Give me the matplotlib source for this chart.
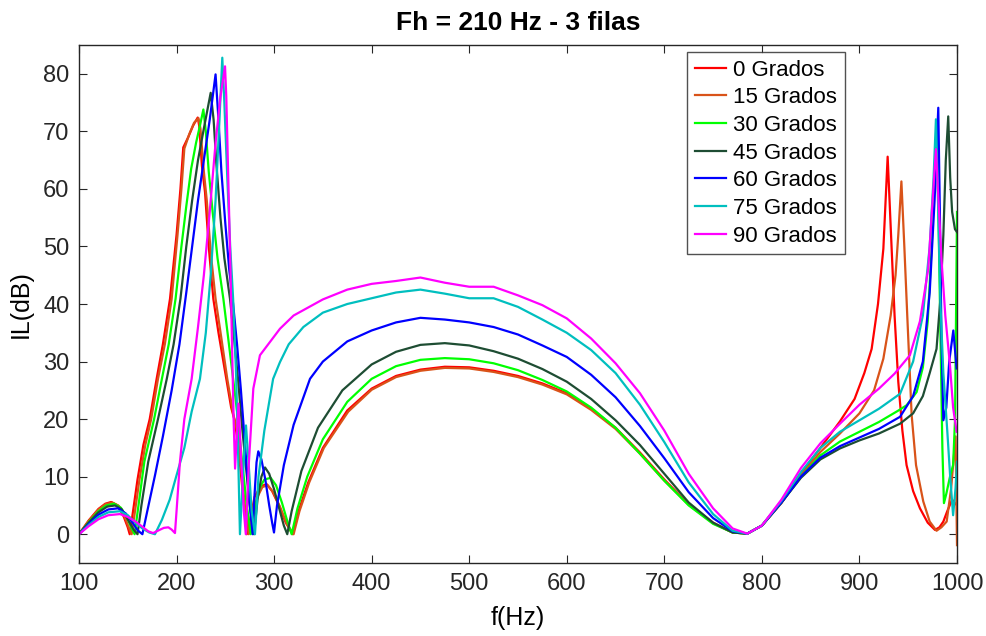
import matplotlib
matplotlib.use("Agg")
import matplotlib.pyplot as plt

plt.rcParams['font.family'] = ['Liberation Sans', 'DejaVu Sans']

# curves, (f in Hz, IL in dB)
f_0 = [100, 110, 120, 127, 133, 140, 146, 150, 152,
       155, 160, 166, 172.5, 179.6, 186, 193.3, 200, 204, 206.9, 212, 217, 221.7,
       223.3, 226, 229.2, 233, 237.7, 243, 250, 256, 260, 264, 268, 272, 276, 280, 286, 292.4, 298, 305, 312, 319,
       325, 335, 350, 375, 400, 425, 450, 475, 500, 525, 550, 575, 600, 625, 650, 675, 700, 725, 750, 770, 785,
       800, 820, 840, 860, 880, 895, 905, 912.5, 919, 924.5, 928.9, 933, 936, 939.8, 944, 948.3, 955, 962, 970,
       977.4, 982, 986, 990, 995, 1000]
il_0 = [0, 2.4, 4.4, 5.3, 5.6, 5.0, 3.0, 1.2, 0,
        3.5, 9.5, 15.5, 20, 27, 33, 40.9, 52, 60, 67.2, 69, 71, 72.4,
        70.9, 64, 59.4, 50, 40.9, 35, 28, 22, 19.5, 14, 7, 0, 3, 6.5, 8.3, 8.7, 7.5, 5, 2, 0,
        4, 9, 15, 21.5, 25.3, 27.5, 28.6, 29.1, 29.0, 28.4, 27.5, 26.2, 24.5, 21.8, 18.5, 14.2, 9.5, 5.2, 2, 0.3, 0.1,
        1.5, 5.5, 10.5, 15, 19.6, 23.5, 28, 32.2, 40, 49.6, 65.6, 49.6, 38, 26.5, 18, 12, 7.5, 4.5, 2,
        0.75, 1.2, 2.2, 4, 6, 5]

f_15 = [100, 110, 120, 127, 134, 141, 147, 151, 154,
        157, 162, 168, 174, 181, 188, 195, 201, 205, 208, 213, 218, 222.5,
        224.5, 228, 231, 235, 240, 246, 252, 258, 262, 266, 270, 274, 278, 283, 288, 293.5, 299, 306, 313, 320,
        326, 336, 351, 376, 400, 425, 450, 475, 500, 525, 550, 575, 600, 625, 650, 675, 700, 725, 750, 770, 785,
        800, 820, 840, 860, 880, 900, 915, 924.5, 932, 937, 939.8, 943, 946, 949, 953.5, 958, 965.4, 972,
        979, 984, 989.4, 994, 998.5, 1000]
il_15 = [0, 2.3, 4.3, 5.2, 5.5, 4.9, 3, 1.2, 0,
         3.5, 9.5, 15.5, 20, 27, 33, 40.9, 52, 60, 67, 69.5, 71.5, 72.3,
         70.5, 63, 58, 49, 40.9, 34, 27, 21, 18, 12, 5, 0, 3, 6.5, 8.2, 8.5, 7.3, 4.8, 1.8, 0,
         4, 9, 15, 21.3, 25.1, 27.3, 28.4, 28.9, 28.8, 28.2, 27.3, 26, 24.3, 21.6, 18.3, 14, 9.3, 5.1, 1.9, 0.3, 0.1,
         1.5, 5.4, 10.2, 14.3, 17.5, 21, 25, 30.5, 38, 45, 52, 61.3, 50, 38, 20.7, 12, 5.7, 2.2,
         0.6, 1.2, 2.2, 8, 17, -1.9]

f_30 = [100, 110, 120, 128, 136, 143, 150, 154, 157,
        161, 167, 177, 185, 192, 199, 205, 210, 215, 220, 224, 227.5,
        230, 233, 237, 242, 248, 253, 258, 263, 267, 272, 276, 280, 285, 290, 296.5, 302, 308, 314, 318,
        324, 334, 350, 375, 400, 425, 450, 475, 500, 525, 550, 575, 600, 625, 650, 675, 700, 725, 750, 770, 785,
        800, 820, 840, 860, 880, 900, 920, 940, 948.3, 958.6, 965, 970, 974, 977, 979.5, 981, 983, 985,
        986.6, 989, 992.8, 996, 998, 1000]
il_30 = [0, 2.1, 4.0, 5.0, 5.3, 4.6, 2.6, 1, 0,
         5, 12.6, 20, 27, 33, 40.9, 50, 57, 63.5, 68, 71, 73.8,
         70, 63, 56, 48, 40.9, 34, 27, 20, 13, 5, 0, 4.5, 8, 9.5, 9.8, 8.5, 5.5, 2, 0,
         4.5, 10, 16.5, 23, 27, 29.2, 30.3, 30.6, 30.4, 29.7, 28.5, 26.8, 24.8, 22, 18.5, 14, 9.3, 5, 1.8, 0.3, 0.1,
         1.5, 5.5, 10, 13.7, 16.1, 17.8, 19.5, 21.5, 22.4, 24.7, 29, 37, 50, 62, 70, 55, 35, 15,
         5.4, 7, 10, 12, 20, 56]

f_45 = [100, 110, 120, 129, 137, 144, 151, 156, 160,
        164, 171, 181, 190, 197, 204, 210, 216, 222, 228, 235,
        238, 241, 245, 249, 254.8, 259, 263, 267, 271, 275, 279.4, 283, 287, 290.7, 295, 300, 306, 310, 313.5,
        318, 328, 345, 370, 400, 425, 450, 475, 500, 525, 550, 575, 600, 625, 650, 675, 700, 725, 750, 770, 785,
        800, 820, 840, 860, 880, 900, 920, 941.6, 955, 965, 972, 979, 983, 986, 988.5, 991,
        993, 995, 997.9, 1000]
il_45 = [0, 2.0, 3.8, 4.8, 5.0, 4.3, 2.3, 0.8, 0,
         5, 12.6, 20, 27, 33, 40.9, 50, 58, 65, 70.5, 76.7,
         72, 64, 55, 48, 40.9, 34, 27, 19, 12, 5, 0, 6, 10, 11.6, 10.5, 7.8, 4, 1.5, 0,
         4, 11, 18.5, 25, 29.5, 31.7, 32.9, 33.2, 32.8, 31.8, 30.5, 28.7, 26.5, 23.5, 19.8, 15.5, 10.5, 5.5, 2, 0.3, 0.1,
         1.5, 5.5, 9.8, 13, 14.9, 16.3, 17.5, 19.2, 21, 24, 28, 32.2, 41, 52, 65, 72.6,
         62, 56, 53, 52.5]

f_60 = [100, 110, 120, 130, 140, 148, 155, 160, 165,
        170, 178, 186, 195, 203, 210, 216, 222, 228, 234, 240,
        243, 246, 250, 254, 258, 262, 266, 270, 274, 278, 280, 282, 283.8, 287, 291, 295, 298, 299.9,
        303, 310, 320, 336.8, 350, 375, 400, 425, 450, 475, 500, 525, 550, 575, 600, 625, 650, 675, 700, 725, 750, 770, 785,
        800, 820, 840, 860, 880, 900, 920, 941.6, 955, 965, 972, 977, 980.8, 982.5, 984, 986,
        989, 992, 996.2, 999.6]
il_60 = [0, 1.8, 3.4, 4.3, 4.5, 3.6, 2, 0.7, 0,
         4, 10.3, 17, 25, 33, 42, 50, 58, 65, 72, 79.9,
         72, 63, 54, 46, 40, 33, 25, 16, 7, 0, 7, 12.5, 14.4, 13, 9.5, 5, 2, 0.3,
         5, 12, 19, 27, 30, 33.5, 35.4, 36.8, 37.6, 37.3, 36.8, 36, 34.7, 32.8, 30.8, 27.7, 23.8, 18.8, 13.2, 7.3, 2.8, 0.5, 0.1,
         1.5, 5.5, 10, 13.3, 15.3, 16.8, 18.3, 20.4, 24, 30, 42, 58, 74.1, 55, 35, 19.8,
         22, 30, 35.4, 28.8]

f_75 = [100, 110, 120, 130, 142, 150, 158, 165, 172, 177.9,
        185, 193, 200.1, 208, 215.5, 224, 230, 235, 240, 244, 246.9,
        249, 252, 255, 258, 261, 263, 265, 268, 271.2, 274, 277, 280.4, 284, 290, 299, 306,
        315, 330, 350, 375, 400, 425, 450, 475, 500, 525, 550, 575, 600, 625, 650, 675, 700, 725, 750, 770, 785,
        800, 820, 840, 860, 880, 900, 920, 941.6, 955, 965, 972, 976, 978.4, 980.5, 983, 986, 990,
        993, 996, 998.5, 1000]
il_75 = [0, 1.6, 3.0, 3.8, 4.0, 3.3, 2, 1, 0.3, 0,
         2.5, 6, 10.3, 15, 21.3, 27, 35, 45, 58, 72, 82.8,
         75, 62, 50, 40.9, 28, 15, 0, 10, 18.9, 12, 4, 0, 10, 18, 27, 29.9,
         33, 36, 38.5, 40, 41, 42, 42.5, 41.8, 41, 41, 39.5, 37.3, 35, 32, 28, 22.5, 16, 9, 3.5, 0.6, 0.1,
         1.5, 5.8, 10.8, 15, 17.8, 19.8, 21.8, 24.4, 30, 38, 50, 62, 72.1, 58, 40, 28, 18,
         10, 3.3, 8, 12.6]

f_90 = [100, 110, 120, 130, 142, 150, 158, 165, 171, 176, 182, 187, 191.6, 195, 198.4,
        200, 203.5, 208, 215.5, 222, 228, 234, 240, 245, 249.7,
        251, 253, 255, 257, 258.5, 260, 263.5, 266, 269, 271, 274, 278.7, 285.5, 306,
        320, 350, 375, 400, 425, 450, 475, 500, 525, 550, 575, 600, 625, 650, 675, 700, 725, 750, 770, 785,
        800, 820, 840, 860, 880, 900, 920, 936, 951.7, 962, 970.5, 975, 978.4, 981, 984, 988,
        992.8, 996, 999.6]
il_90 = [0, 1.4, 2.6, 3.3, 3.5, 3.0, 2.2, 1.3, 0.5, 0.2, 0.7, 1.1, 1.2, 0.8, 0.2,
         4, 12.6, 20, 27, 36, 45, 56, 68, 76, 81.3,
         76, 62, 48, 32, 20, 11.4, 22.7, 14, 4, 0, 12, 25.3, 31.1, 35.7,
         38, 40.8, 42.5, 43.5, 44, 44.6, 43.7, 43, 43, 41.5, 39.8, 37.5, 34, 29.7, 24.5, 18, 10.5, 4.5, 1, 0.1,
         1.5, 6, 11.5, 15.8, 19.2, 22.5, 25.3, 27.9, 31.1, 37, 46.1, 58, 66.9, 58, 48, 38,
         29.3, 22, 17.8]

labels = ['0 Grados', '15 Grados', '30 Grados', '45 Grados', '60 Grados', '75 Grados', '90 Grados']
colors = ['#ff0000', '#d95319', '#00ff00', '#1e4d33', '#0000ff', '#00bfbf', '#ff00ff']
series = [(f_0, il_0), (f_15, il_15), (f_30, il_30), (f_45, il_45),
          (f_60, il_60), (f_75, il_75), (f_90, il_90)]

fig = plt.figure(figsize=(9.86, 6.36), dpi=100)
ax = fig.add_axes([0.0801, 0.1148, 0.8905, 0.8144])

for (f, il), lab, c in zip(series, labels, colors):
    ax.plot(f, il, color=c, linewidth=1.6, label=lab)

ax.set_xlim(100, 1000)
ax.set_ylim(-5, 85)
ax.set_xticks(range(100, 1001, 100))
ax.set_yticks(range(0, 81, 10))
ax.tick_params(direction='in', top=True, right=True, labelsize=17, length=6, pad=7,
               colors='#262626', labelcolor='#262626')
for s in ax.spines.values():
    s.set_color('#262626')
    s.set_linewidth(1.0)

ax.set_title('Fh = 210 Hz - 3 filas', fontsize=19, fontweight='bold', pad=11)
ax.set_xlabel('f(Hz)', fontsize=18, labelpad=8)
ax.set_ylabel('IL(dB)', fontsize=18, labelpad=7)

leg = ax.legend(loc='upper right', bbox_to_anchor=(0.872, 0.987), fontsize=16, frameon=True,
                fancybox=False, edgecolor='#262626', handlelength=1.4, labelspacing=0.3,
                borderpad=0.35, handletextpad=0.3, borderaxespad=0)
leg.get_frame().set_linewidth(1.0)

fig.savefig('out.png', dpi=100)
